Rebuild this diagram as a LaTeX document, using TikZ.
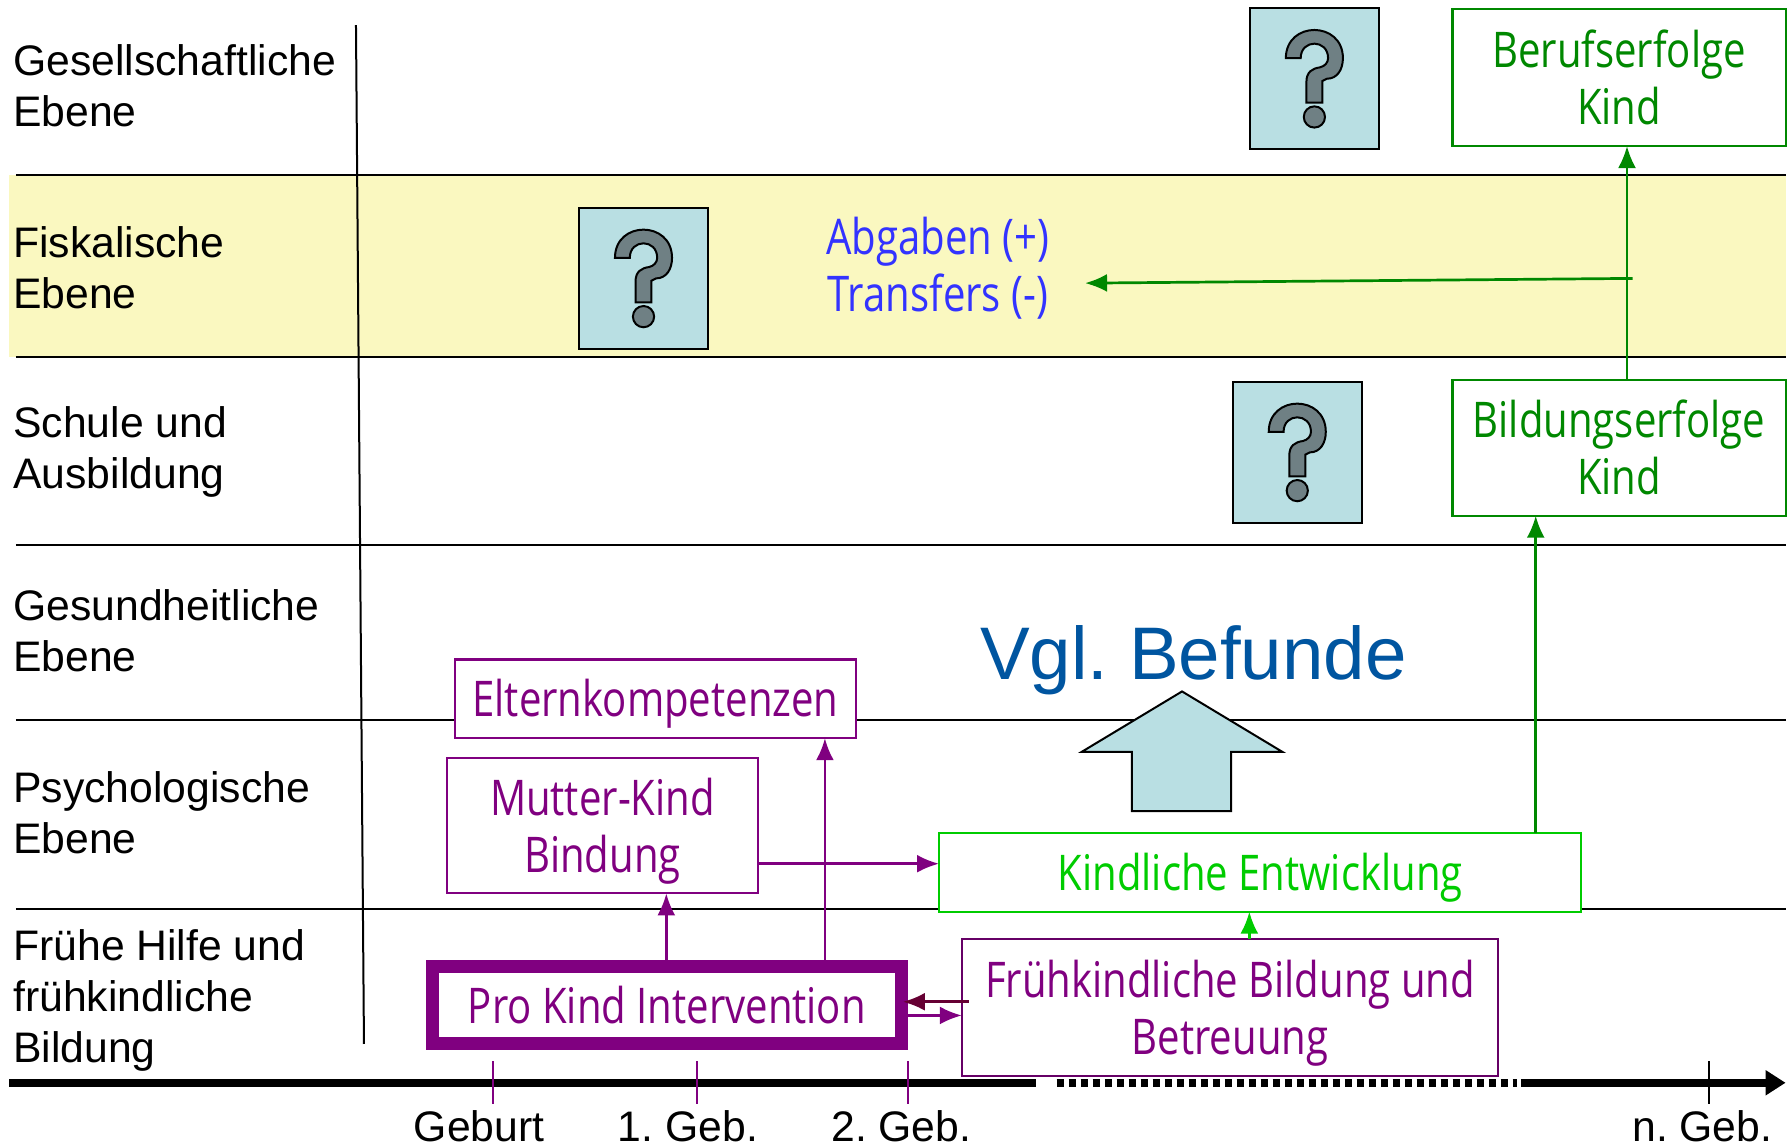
\documentclass[tikz,border=0pt]{standalone}
\usepackage{fontspec}
\usepackage{tikz}
\usetikzlibrary{arrows.meta}
\setmainfont{Liberation Sans}
\newfontfamily\boxfont[FakeStretch=0.815]{Open Sans}
\frenchspacing
\definecolor{band}{HTML}{FAF8C0}
\definecolor{pale}{HTML}{B9DFE3}
\definecolor{qgray}{HTML}{6F8084}
\definecolor{lila}{HTML}{800080}
\definecolor{lilad}{HTML}{660066}
\definecolor{wine}{HTML}{660033}
\definecolor{dgreen}{HTML}{008800}
\definecolor{lgreen}{HTML}{00CC00}
\definecolor{befund}{HTML}{0055A0}
\newcommand{\dn}[1]{\raisebox{-1.5pt}[\height][\depth]{#1}}

\begin{document}
\begin{tikzpicture}[x=0.1141mm, y=-0.1141mm,
    lab/.style={align=left, anchor=west, inner sep=0, font=\fontsize{12.15}{14.5}\selectfont},
    tim/.style={inner sep=0, font=\fontsize{12.15}{14.5}\selectfont},
    size/.style 2 args={minimum width=#1*0.1141mm, minimum height=#2*0.1141mm},
    bx/.style={draw, fill=white, align=center, inner sep=0, outer sep=0, line width=0.22mm, font=\boxfont\fontsize{14}{16.2}\selectfont},
    qbox/.style={draw=black, fill=pale, line width=0.2mm, inner sep=0},
    tip/.style={-{Latex[length=2.2mm, width=1.8mm]}},
    conn/.style={tip, line width=0.27mm}]
      \useasboundingbox (0, 0) rectangle (1568, 1004);
      \fill[band] (8, 153) rectangle (1565, 313);
      \coordinate (l0) at (312, 22);
      \coordinate (l1) at (319, 915);
      \draw[line width=0.2mm] (l0) -- (l1);
      \foreach \y in {153, 313, 478, 631, 797}
        \draw[line width=0.2mm] (14, \y) -- (1565, \y);
      % ebenen
      \node[lab] (e1) at (11, 75) {Gesellschaftliche\\Ebene};
      \node[lab] (e2) at (11, 235) {Fiskalische\\Ebene};
      \node[lab] (e3) at (11, 396.5) {Schule und\\Ausbildung};
      \node[lab] (e4) at (11, 553) {Gesundheitliche\\Ebene};
      \node[lab] (e5) at (11, 712) {Psychologische\\Ebene};
      \node[lab] (e6) at (11, 877) {Frühe Hilfe und\\frühkindliche\\Bildung};
      % fragezeichen
      \foreach \n/\cx/\cy in {q1/1152/69, q2/564/244, q3/1137/396.5} {
        \node[qbox, size={113}{124}] (\n) at (\cx, \cy) {};
        \begin{scope}[shift={(\cx, \cy)}]
          \draw[fill=qgray, line width=0.2mm] (-25, -18) .. controls (-25, -51) and (25, -51) .. (25, -18)
            .. controls (25, -8) and (20, 0) .. (11, 0) -- (7, 2) -- (7, 21) -- (-7, 21) -- (-7, 3)
            .. controls (-7, -6) and (-2, -9) .. (5, -10)
            .. controls (9, -11) and (12, -14) .. (12, -18)
            .. controls (12, -35) and (-12, -35) .. (-12, -18) -- cycle;
          \draw[fill=qgray, line width=0.2mm] (0, 33.5) circle (9.3);
        \end{scope}
      }
      % boxen
      \node[bx, size={292}{120}, draw=dgreen, text=dgreen] (beruf) at (1419, 68) {Berufserfolge\\Kind};
      \node[bx, size={292}{119}, draw=dgreen, text=dgreen] (bild) at (1419, 392.5) {Bildungserfolge\\Kind};
      \node[bx, size={351}{69}, draw=lila, text=lila] (eltern) at (574.5, 612.5) {\dn{Elternkompetenzen}};
      \node[bx, size={272}{119}, draw=lila, text=lila] (mutter) at (528, 723.5) {\dn{Mutter-Kind}\\\dn{Bindung}};
      \node[bx, size={563}{69}, draw=lgreen, text=lgreen] (kind) at (1104.5, 764.5) {\dn{Kindliche Entwicklung}};
      \node[bx, size={470}{120}, draw=lilad, text=lila] (frueh) at (1078, 883) {\dn{Frühkindliche Bildung und}\\\dn{Betreuung}};
      \node[bx, size={411}{68}, draw=lila, text=lila, line width=1.3mm, outer sep=0.65mm] (pro) at (584.5, 881) {Pro Kind Intervention};
      \node[inner sep=0, align=center, text=blue!80!white, font=\boxfont\fontsize{14}{16.2}\selectfont] (abg) at (822, 235) {Abgaben (+)\\Transfers (-)};
      \node[inner sep=0, text=befund, font=\fontsize{21.2}{24}\selectfont] (vgl) at (1046, 579) {Vgl. Befunde};
      \draw[fill=pale, line width=0.2mm] (1036, 606) -- (1124, 659) -- (1079, 659) -- (1079, 711)
        -- (992, 711) -- (992, 659) -- (948, 659) -- cycle;
      % pfeile
      \coordinate (ab) at (1431, 244);
      \draw (bild.north -| 1426, 0) edge[conn, dgreen] (beruf.south -| 1426, 0);
      \draw (ab) edge[conn, dgreen] ([shift={(3.5mm, -1.5mm)}]abg.east);
      \draw (kind.north -| 1346, 0) edge[conn, dgreen] (bild.south -| 1346, 0);
      \draw (frueh.north -| 1095, 0) edge[conn, lgreen] (kind.south -| 1095, 0);
      \draw (mutter.east |- 0, 757) edge[conn, lila] (kind.west |- 0, 757);
      \draw (pro.north -| 584, 0) edge[conn, lila] (mutter.south -| 584, 0);
      \draw (pro.north -| 723, 0) edge[conn, lila] (eltern.south -| 723, 0);
      \draw ([xshift=0.7mm]frueh.west |- 0, 878) edge[conn, wine] ([xshift=-0.5mm]pro.east |- 0, 878);
      \draw (pro.east |- 0, 890) edge[conn, lila] (frueh.west |- 0, 890);
      % zeitachse
      \coordinate (t0) at (8, 949);
      \coordinate (t1) at (908, 949);
      \coordinate (t2) at (926, 949);
      \coordinate (t3) at (1330, 949);
      \coordinate (t4) at (1333, 949);
      \coordinate (t5) at (1565, 949);
      \draw[line width=0.85mm] (t0) -- (t1);
      \draw[line width=0.85mm, dash pattern=on 0.7mm off 0.5mm] (t2) -- (t3);
      \draw[line width=0.85mm, -{Triangle[length=2mm, width=2.4mm]}] (t4) -- (t5);
      \foreach \x in {432, 611, 796}
        \draw[lila, line width=0.15mm] (\x, 930) -- (\x, 968);
      \draw[line width=0.15mm] (1498, 930) -- (1498, 968);
      \node[tim] (g0) at (420, 987) {Geburt};
      \node[tim] (g1) at (603, 987) {1. Geb.};
      \node[tim] (g2) at (790, 987) {2. Geb.};
      \node[tim] (g3) at (1492, 987) {n. Geb.};
    \end{tikzpicture}
\end{document}
